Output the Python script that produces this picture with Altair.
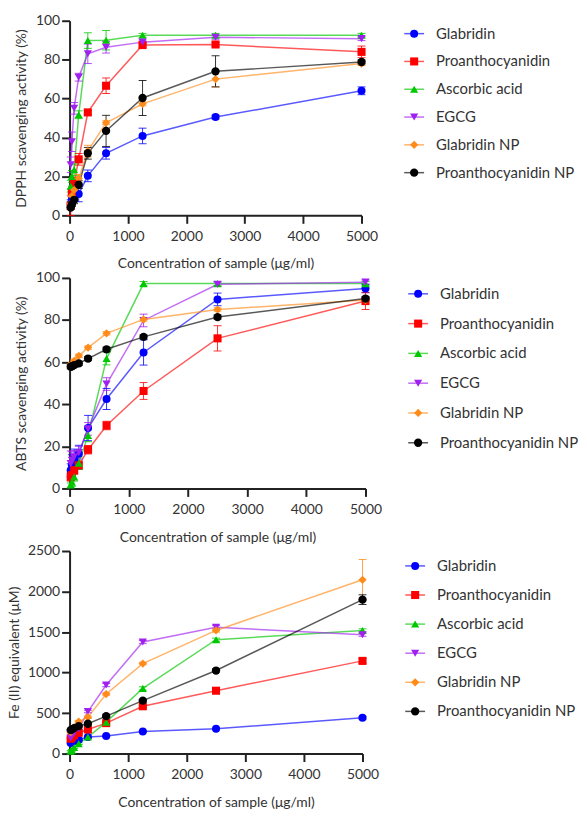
import altair as alt
import pandas as pd

conc = [19.53, 39.06, 78.13, 156.25, 312.5, 625, 1250, 2500, 5000]
series = ["Glabridin", "Proanthocyanidin", "Ascorbic acid", "EGCG", "Glabridin NP", "Proanthocyanidin NP"]
colors = ["#0000FF", "#FF0000", "#00C800", "#A020F0", "#FF8C1A", "#000000"]
shapes = ["circle", "square", "triangle-up", "triangle-down", "diamond", "circle"]
sizes = [65, 70, 60, 60, 40, 110]

# DPPH scavenging activity (%)
dpph_glab = [6, 8, 10, 11, 20.3, 31.9, 40.8, 50.5, 64]
dpph_pro = [5, 12, 16.6, 28.8, 52.9, 66.6, 87.5, 87.8, 84]
dpph_asc = [15, 20, 23.4, 51.7, 89.8, 90, 92.5, 92.5, 92.5]
dpph_egcg = [26, 37.8, 55, 71, 83, 86.4, 89, 91.5, 90.8]
dpph_gnp = [6, 10, 13, 19, 33, 47.6, 57.3, 70, 78]
dpph_pnp = [4, 5.6, 8, 15.8, 31.9, 43.4, 60.3, 74, 78.8]
dpph_glab_sd = [2, 2, 3, 4, 3, 3, 4, 1, 2]
dpph_pro_sd = [5, 3, 3, 3, 1, 4, 1, 1, 3]
dpph_asc_sd = [3, 3, 3, 2, 4, 5, 1, 1, 1]
dpph_egcg_sd = [4, 5, 3, 2, 5, 3, 1, 1, 1]
dpph_gnp_sd = [1, 1, 1, 2, 3, 1, 1, 4, 1]
dpph_pnp_sd = [1, 1, 2, 2, 3, 8, 9, 8, 1]

# ABTS scavenging activity (%)
abts_glab = [8.7, 11, 13.7, 16.5, 28.7, 42.5, 64.6, 89.8, 95]
abts_pro = [5.5, 6.3, 8.7, 11, 18.4, 29.9, 46.3, 71.3, 89]
abts_asc = [1.6, 3, 5.5, 12, 25.2, 61.7, 97.3, 97.3, 97.3]
abts_egcg = [11.8, 13.4, 15, 17, 28.3, 49.6, 79.8, 97, 98]
abts_gnp = [58.3, 59, 60.6, 63, 66.9, 73.7, 80.3, 85, 89.5]
abts_pnp = [57.8, 58, 58.6, 59.4, 61.7, 66.1, 72, 81.4, 90.2]
abts_glab_sd = [3, 5, 5, 4, 6, 5, 6, 3, 2]
abts_pro_sd = [2, 2, 2, 2, 2, 2, 4, 6, 4]
abts_asc_sd = [1, 2, 2, 3, 3, 3, 1, 1, 1]
abts_egcg_sd = [6, 4, 3, 3, 3, 3, 3, 1, 1]
abts_gnp_sd = [0.8, 0.8, 0.8, 0.8, 0.8, 0.8, 0.8, 0.8, 0.8]
abts_pnp_sd = [1, 1, 1, 1, 1, 1, 1, 1, 1]

# Fe (II) equivalent (uM)
frap_glab = [131, 143, 155, 172, 204, 217, 274, 306, 441]
frap_pro = [184, 204, 225, 257, 298, 376, 584, 776, 1144]
frap_asc = [29, 41, 74, 123, 204, 388, 805, 1405, 1520]
frap_egcg = [192, 225, 257, 306, 519, 846, 1377, 1560, 1467]
frap_gnp = [265, 286, 327, 396, 449, 735, 1111, 1520, 2145]
frap_pnp = [290, 300, 315, 340, 368, 462, 654, 1025, 1900]
frap_glab_sd = [10, 10, 10, 10, 10, 10, 10, 10, 15]
frap_pro_sd = [10, 10, 10, 10, 10, 10, 15, 15, 30]
frap_asc_sd = [10, 10, 10, 10, 10, 15, 20, 20, 20]
frap_egcg_sd = [10, 10, 10, 10, 15, 20, 20, 20, 20]
frap_gnp_sd = [10, 10, 10, 10, 15, 15, 15, 20, 250]
frap_pnp_sd = [10, 10, 10, 10, 10, 15, 15, 20, 60]


def build(means, sds):
    rows = []
    for s, m, e in zip(series, means, sds):
        for c, v, d in zip(conc, m, e):
            rows.append({"series": s, "conc": c, "mean": v, "lo": max(v - d, 0), "hi": v + d})
    return pd.DataFrame(rows)


df_dpph = build([dpph_glab, dpph_pro, dpph_asc, dpph_egcg, dpph_gnp, dpph_pnp],
                [dpph_glab_sd, dpph_pro_sd, dpph_asc_sd, dpph_egcg_sd, dpph_gnp_sd, dpph_pnp_sd])
df_abts = build([abts_glab, abts_pro, abts_asc, abts_egcg, abts_gnp, abts_pnp],
                [abts_glab_sd, abts_pro_sd, abts_asc_sd, abts_egcg_sd, abts_gnp_sd, abts_pnp_sd])
df_frap = build([frap_glab, frap_pro, frap_asc, frap_egcg, frap_gnp, frap_pnp],
                [frap_glab_sd, frap_pro_sd, frap_asc_sd, frap_egcg_sd, frap_gnp_sd, frap_pnp_sd])

FONT = "Lato"
color_enc = alt.Color("series:N", scale=alt.Scale(domain=series, range=colors), legend=None)
shape_enc = alt.Shape("series:N", scale=alt.Scale(domain=series, range=shapes), legend=None)
size_enc = alt.Size("series:N", scale=alt.Scale(domain=series, range=sizes), legend=None)
XT = "Concentration of sample (\u03bcg/ml)"


def panel(df, ytitle, ydom, yvals, w, h, tx):
    base = alt.Chart(df)
    xax = alt.Axis(values=[0, 1000, 2000, 3000, 4000, 5000], format="d", title=XT,
                   labelFlush=False, labelPadding=6, titlePadding=14)
    x = alt.X("conc:Q", scale=alt.Scale(domain=[0, 5000], nice=False), axis=xax)
    yax = alt.Axis(values=yvals, format="d", title=ytitle, labelPadding=2, titleX=tx)
    ysc = alt.Scale(domain=ydom, nice=False)
    y = alt.Y("mean:Q", scale=ysc, axis=yax)
    ylo = alt.Y("lo:Q", scale=ysc, axis=yax)
    yhi = alt.Y("hi:Q", scale=ysc, axis=yax)
    line = base.mark_line(strokeWidth=1.5, opacity=0.65).encode(x=x, y=y, color=color_enc)
    err = base.mark_rule(strokeWidth=1, opacity=0.8).encode(x=x, y=ylo, y2="hi:Q", color=color_enc)
    cap_lo = base.mark_tick(orient="horizontal", size=8, thickness=1, opacity=0.8).encode(x=x, y=ylo, color=color_enc)
    cap_hi = base.mark_tick(orient="horizontal", size=8, thickness=1, opacity=0.8).encode(x=x, y=yhi, color=color_enc)
    pts = base.mark_point(filled=True, opacity=1).encode(x=x, y=y, color=color_enc, shape=shape_enc, size=size_enc)
    return alt.layer(line, err, cap_lo, cap_hi, pts).properties(width=w, height=h)


leg_df = pd.DataFrame({"series": series, "k": list(range(len(series)))})


def legend(h, top, step):
    base = alt.Chart(leg_df)
    ly = alt.Y("k:Q", scale=alt.Scale(domain=[0, 5], range=[top, top + 5 * step]), axis=None)
    r = base.mark_rule(strokeWidth=1.5, opacity=0.65).encode(x=alt.value(0), x2=alt.value(20), y=ly, color=color_enc)
    p = base.mark_point(filled=True, opacity=1).encode(x=alt.value(10), y=ly, color=color_enc, shape=shape_enc, size=size_enc)
    t = base.mark_text(align="left", baseline="middle", font=FONT, fontSize=15, color="#333333").encode(
        x=alt.value(32), y=ly, text="series:N")
    return alt.layer(r, p, t).properties(width=130, height=h)


row1 = alt.hconcat(panel(df_dpph, "DPPH scavenging activity (%)", [0, 100], [0, 20, 40, 60, 80, 100], 294, 196, -41),
                   legend(196, 13, 28), spacing=25)
row2 = alt.hconcat(panel(df_abts, "ABTS scavenging activity (%)", [0, 100], [0, 20, 40, 60, 80, 100], 298, 212, -41),
                   legend(212, 16, 30), spacing=25)
row3 = alt.hconcat(panel(df_frap, "Fe (II) equivalent (\u03bcM)", [0, 2500], [0, 500, 1000, 1500, 2000, 2500], 295, 204, -48),
                   legend(204, 15, 29.3), spacing=25)

chart = alt.concat(row1, row2, row3, columns=1, spacing=0, align="none").properties(
    padding={"left": 0, "top": 3, "right": 0, "bottom": 0}
).configure_view(stroke=None).configure_axis(
    grid=False, domainColor="#222222", tickColor="#222222", domainWidth=2, tickWidth=2, tickSize=8,
    labelFont=FONT, labelFontSize=14, labelColor="#333333",
    titleFont=FONT, titleFontSize=14, titleFontWeight="normal", titleColor="#333333"
)

chart.save("out.html", embed_options={"renderer": "svg", "actions": False})
